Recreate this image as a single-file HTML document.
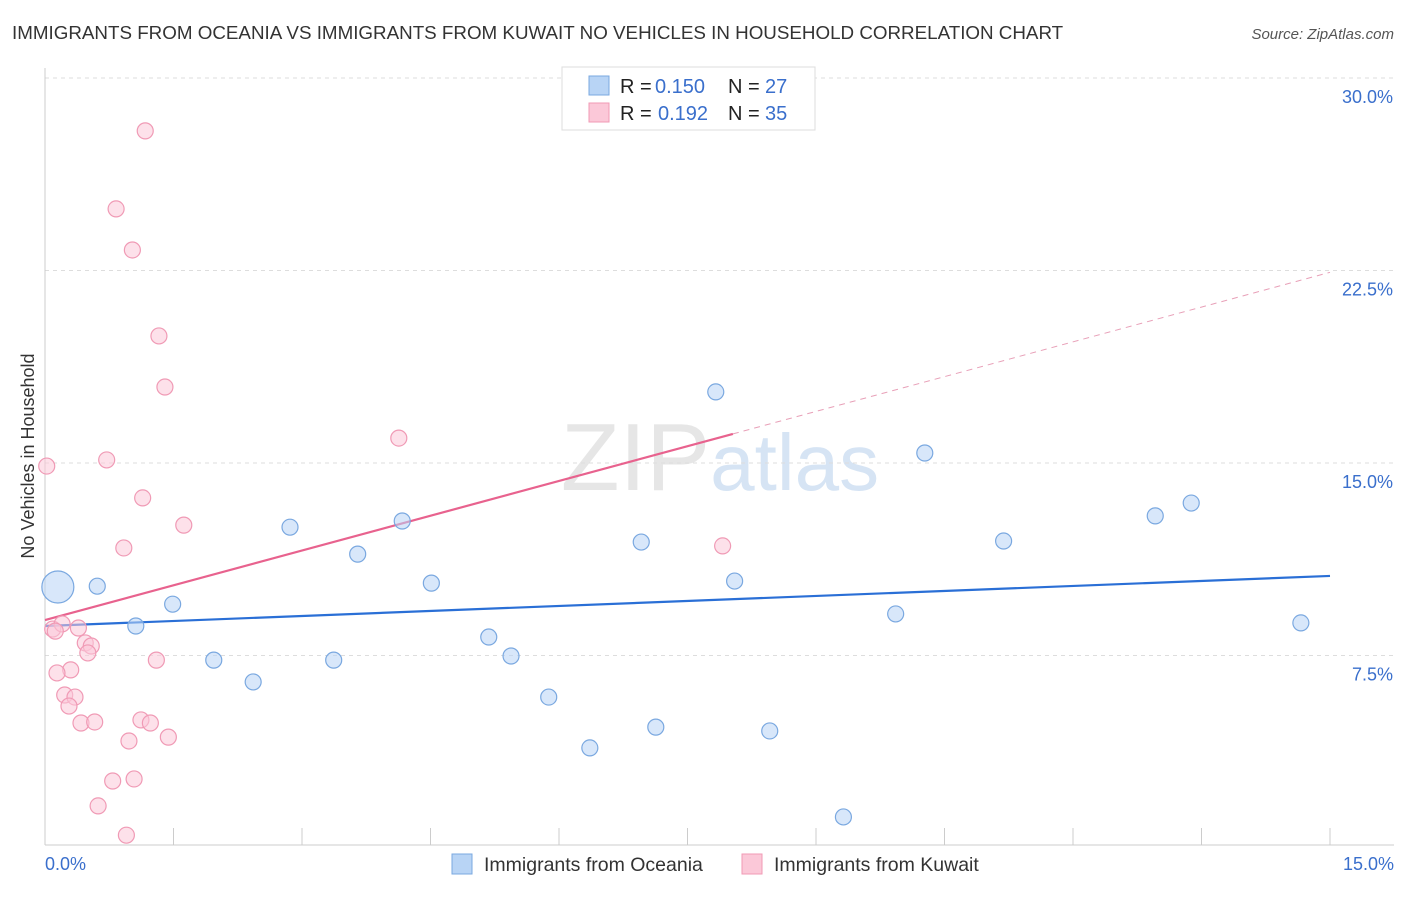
<!DOCTYPE html>
<html><head><meta charset="utf-8"><style>
body{margin:0;background:#fff;font-family:"Liberation Sans",sans-serif}
text{font-family:"Liberation Sans",sans-serif}
</style></head><body>
<svg id="chart" width="1406" height="892" xmlns="http://www.w3.org/2000/svg">
<text x="12" y="39" font-size="18.8" fill="#333">IMMIGRANTS FROM OCEANIA VS IMMIGRANTS FROM KUWAIT NO VEHICLES IN HOUSEHOLD CORRELATION CHART</text>
<text x="1394" y="39" font-size="15" fill="#555" text-anchor="end" font-style="italic">Source: ZipAtlas.com</text>
<text x="720" y="490" font-size="96" text-anchor="middle" fill="#e6e6e6" font-family="Liberation Serif">ZIP<tspan fill="#d6e4f4" font-family="Liberation Sans" font-size="80">atlas</tspan></text>
<text transform="translate(34,456) rotate(-90)" font-size="18" fill="#333" text-anchor="middle">No Vehicles in Household</text>
<g id="grid"></g><g id="axes"></g><g id="lines"></g><g id="pts"></g>
<g>
<rect x="562" y="67" width="253" height="63" fill="#fff" stroke="#ddd"/>
<rect x="589" y="76" width="20" height="19" fill="#b8d4f5" stroke="#7aa8e0"/>
<rect x="589" y="103" width="20" height="19" fill="#fbc8d8" stroke="#f09ab5"/>
<text x="620" y="93" font-size="20" fill="#222">R =</text>
<text x="655" y="93" font-size="20" fill="#3a6fcc">0.150</text>
<text x="728" y="93" font-size="20" fill="#222">N =</text>
<text x="765" y="93" font-size="20" fill="#3a6fcc">27</text>
<text x="620" y="120" font-size="20" fill="#222">R =</text>
<text x="658" y="120" font-size="20" fill="#3a6fcc">0.192</text>
<text x="728" y="120" font-size="20" fill="#222">N =</text>
<text x="765" y="120" font-size="20" fill="#3a6fcc">35</text>
</g>
<g>
<rect x="452" y="854" width="20" height="20" fill="#b8d4f5" stroke="#7aa8e0"/>
<text x="484" y="871" font-size="19.5" fill="#333">Immigrants from Oceania</text>
<rect x="742" y="854" width="20" height="20" fill="#fbc8d8" stroke="#f09ab5"/>
<text x="774" y="871" font-size="19.5" fill="#333">Immigrants from Kuwait</text>
</g>
</svg>
<script>
const blueX=[0.15,0.61,1.06,1.49,1.97,2.43,2.86,3.37,3.65,4.17,4.51,5.18,5.44,5.88,6.36,6.96,7.13,7.83,8.05,8.46,9.32,9.93,10.27,11.19,12.96,13.38,14.66];
const blueY=[10.17,10.2,8.65,9.5,7.32,6.47,12.5,7.32,11.45,12.74,10.32,8.22,7.48,5.88,3.9,11.92,4.71,17.77,10.4,4.56,1.21,9.12,15.39,11.96,12.94,13.44,8.77];
const pinkX=[1.17,0.83,1.02,1.33,1.40,4.13,0.02,0.72,1.14,1.62,0.92,7.91,0.09,0.2,0.39,0.47,0.54,0.5,1.3,0.3,0.14,0.23,0.35,0.28,0.42,0.58,1.12,1.23,0.98,1.44,0.79,1.04,0.62,0.95,0.12];
const pinkY=[27.94,24.9,23.3,19.95,17.96,15.97,14.88,15.12,13.64,12.58,11.69,11.77,8.53,8.73,8.57,7.99,7.87,7.6,7.32,6.94,6.82,5.96,5.88,5.53,4.87,4.91,4.99,4.87,4.17,4.32,2.61,2.69,1.64,0.5,8.45];
const yTicks=[7.5,15,22.5,30];
const xTickLabels=["0.0%","15.0%"];
const blueTrend=[8.65,10.6];
const pinkTrend=[8.88,22.43];
const pinkSolidEnd=8.03;
const X=v=>45+v/15*1285, Y=v=>848-v/7.5*192.5;
const NS="http://www.w3.org/2000/svg";
function mk(p,t,a){const e=document.createElementNS(NS,t);for(const k in a)e.setAttribute(k,a[k]);document.getElementById(p).appendChild(e);return e;}
yTicks.forEach(t=>{const g=mk('grid','line',{x1:45,x2:1394,y1:Y(t),y2:Y(t),stroke:'#ddd','stroke-dasharray':'4,4'});


const l=mk('grid','text',{x:1393,y:Y(t)+25,'font-size':18,fill:'#3a6fcc','text-anchor':'end'});l.textContent=t.toFixed(1)+'%';

});
const ax=mk('axes','line',{x1:45,x2:1394,y1:845,y2:845,stroke:'#ccc'});


const ay=mk('axes','line',{x1:45,x2:45,y1:68,y2:845,stroke:'#ccc'});


for(let i=0;i<=10;i++){const t=mk('axes','line',{x1:X(i*1.5),x2:X(i*1.5),y1:828,y2:845,stroke:'#ccc'});

}
[[0,'start',45],[1,'end',1394]].forEach(([i,a,x])=>{const l=mk('axes','text',{x:x,y:870,'font-size':18,fill:'#3a6fcc','text-anchor':a});l.textContent=xTickLabels[i];

});
function pt(x,y,r,f,s,n){const c=mk('pts','circle',{cx:X(x),cy:Y(y),r:r,fill:f,stroke:s,'stroke-width':1.2,'fill-opacity':0.55});

}
pinkX.forEach((x,i)=>pt(x,pinkY[i],8,'#fbc8d8','#f09ab5','kuwait-point'));
blueX.forEach((x,i)=>pt(x,blueY[i],i==0?16:8,'#b8d4f5','#7aa8e0','oceania-point'));
const slope=(pinkTrend[1]-pinkTrend[0])/15, pe=pinkTrend[0]+slope*pinkSolidEnd;
const bl=mk('lines','line',{x1:X(0),y1:Y(blueTrend[0]),x2:X(15),y2:Y(blueTrend[1]),stroke:'#2a6fd6','stroke-width':2.2});


const pl=mk('lines','line',{x1:X(0),y1:Y(pinkTrend[0]),x2:X(pinkSolidEnd),y2:Y(pe),stroke:'#e8628e','stroke-width':2.2});


const pd=mk('lines','line',{x1:X(pinkSolidEnd),y1:Y(pe),x2:X(15),y2:Y(pinkTrend[1]),stroke:'#e8a0b8','stroke-width':1,'stroke-dasharray':'6,5'});


</script>
</body></html>
